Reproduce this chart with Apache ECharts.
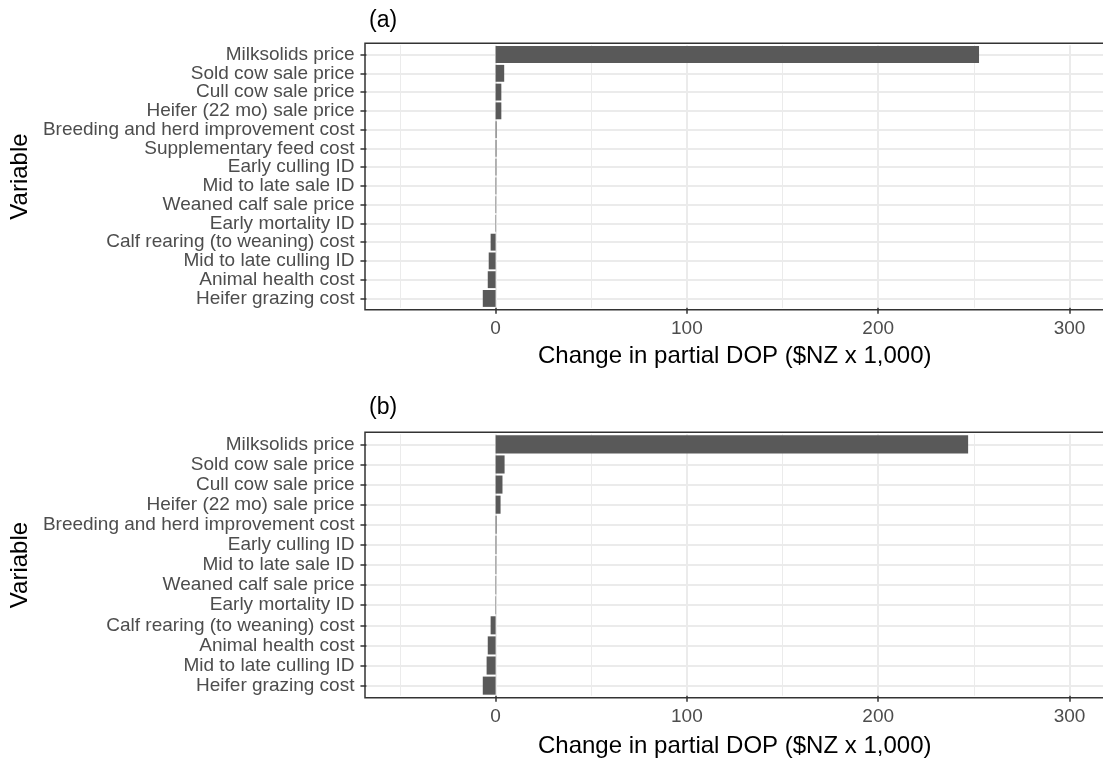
<!DOCTYPE html>
<html>
<head>
<meta charset="utf-8">
<script src="https://cdn.jsdelivr.net/npm/echarts@6/dist/echarts.min.js"></script>
<style>
  html, body { margin: 0; padding: 0; background: #ffffff; }
  #chart { width: 1103px; height: 761px; }
</style>
</head>
<body>
<div id="chart"></div>
<script>
// Panel (a): variables and change in partial DOP ($NZ x 1,000)
const categoriesA = [
  'Milksolids price', 'Sold cow sale price', 'Cull cow sale price',
  'Heifer (22 mo) sale price', 'Breeding and herd improvement cost',
  'Supplementary feed cost', 'Early culling ID', 'Mid to late sale ID',
  'Weaned calf sale price', 'Early mortality ID', 'Calf rearing (to weaning) cost',
  'Mid to late culling ID', 'Animal health cost', 'Heifer grazing cost'
];
const valuesA = [252.7, 4.5, 3.0, 3.0, 0.5, 0.45, 0.4, 0.35, 0.3, 0.25, -2.6, -3.6, -4.1, -6.7];

// Panel (b)
const categoriesB = [
  'Milksolids price', 'Sold cow sale price', 'Cull cow sale price',
  'Heifer (22 mo) sale price', 'Breeding and herd improvement cost',
  'Early culling ID', 'Mid to late sale ID', 'Weaned calf sale price',
  'Early mortality ID', 'Calf rearing (to weaning) cost', 'Animal health cost',
  'Mid to late culling ID', 'Heifer grazing cost'
];
const valuesB = [247.0, 4.7, 3.6, 2.6, 0.5, 0.4, 0.35, 0.3, 0.25, -2.6, -4.1, -4.7, -6.7];

// x axis range and tick positions
const xMin = -67.5;
const xMax = 317.5;
const majorTicks = [0, 100, 200, 300];
const minorTicks = [-50, 50, 150, 250];

const xTitle = 'Change in partial DOP ($NZ x 1,000)';
const yTitle = 'Variable';
const panelTitles = ['(a)', '(b)'];

const FONT = '"Liberation Sans", Arial, Helvetica, sans-serif';
const INK = '#333333';
const LABEL = '#4D4D4D';
const GRID = '#EBEBEB';
const BAR = '#595959';

// Panel frames (outer border of each plotting area)
const panels = [
  { left: 365, width: 743, top: 43.3, height: 266.4, n: categoriesA.length, labelMargin: 11, nameGap: 37 },
  { left: 365, width: 743, top: 432.3, height: 265.4, n: categoriesB.length, labelMargin: 12, nameGap: 39 }
];
// Categories occupy the frame minus a 0.6-unit margin at each end
const grids = panels.map(p => {
  const unit = p.height / (p.n + 0.2);
  return { left: p.left, width: p.width, top: p.top + 0.1 * unit, height: p.height - 0.2 * unit };
});

function majorX(gi) {
  const p = panels[gi];
  return {
    type: 'value', gridIndex: gi, min: xMin, max: xMax,
    axisLine: { show: false, onZero: false },
    axisTick: { show: true, customValues: majorTicks, length: 6, lineStyle: { color: INK, width: 1.5 } },
    axisLabel: { customValues: majorTicks, color: LABEL, fontSize: 19, fontFamily: FONT, margin: p.labelMargin },
    splitLine: { show: true, lineStyle: { color: GRID, width: 2 } },
    name: xTitle, nameLocation: 'middle', nameGap: p.nameGap,
    nameTextStyle: { color: '#000000', fontSize: 24, fontFamily: FONT }
  };
}
function minorX(gi) {
  return {
    type: 'value', gridIndex: gi, min: xMin, max: xMax,
    axisLine: { show: false, onZero: false },
    axisTick: { show: false, customValues: minorTicks },
    axisLabel: { show: false, customValues: minorTicks },
    splitLine: { show: true, lineStyle: { color: GRID, width: 1 } }
  };
}
function catY(gi, cats) {
  return {
    type: 'category', gridIndex: gi, data: cats, inverse: true,
    axisLine: { show: false, onZero: false },
    axisTick: { show: true, alignWithLabel: true, length: 6, lineStyle: { color: INK, width: 1.5 } },
    axisLabel: { color: LABEL, fontSize: 19, fontFamily: FONT, margin: 12, interval: 0 },
    splitLine: { show: true, alignWithLabel: true, interval: 0, lineStyle: { color: GRID, width: 2 } },
    name: yTitle, nameLocation: 'middle', nameRotate: 90, nameGap: 334,
    nameTextStyle: { color: '#000000', fontSize: 24, fontFamily: FONT }
  };
}

const option = {
  animation: false,
  backgroundColor: '#ffffff',
  title: panelTitles.map((t, i) => ({
    text: t, left: 364, top: i === 0 ? 4 : 391,
    textStyle: { fontSize: 23, fontWeight: 'normal', color: '#000000', fontFamily: FONT }
  })),
  grid: grids,
  xAxis: [majorX(0), minorX(0), majorX(1), minorX(1)],
  yAxis: [catY(0, categoriesA), catY(1, categoriesB)],
  series: [
    { type: 'bar', xAxisIndex: 0, yAxisIndex: 0, data: valuesA, barCategoryGap: '10%', itemStyle: { color: BAR } },
    { type: 'bar', xAxisIndex: 2, yAxisIndex: 1, data: valuesB, barCategoryGap: '10%', itemStyle: { color: BAR } }
  ],
  graphic: panels.map(p => ({
    type: 'rect', z: 100, silent: true,
    shape: { x: p.left, y: p.top, width: p.width + 4, height: p.height },
    style: { fill: 'none', stroke: INK, lineWidth: 1.5 }
  }))
};

const chart = echarts.init(document.getElementById('chart'), null, { renderer: 'canvas' });
chart.setOption(option);
</script>
</body>
</html>
